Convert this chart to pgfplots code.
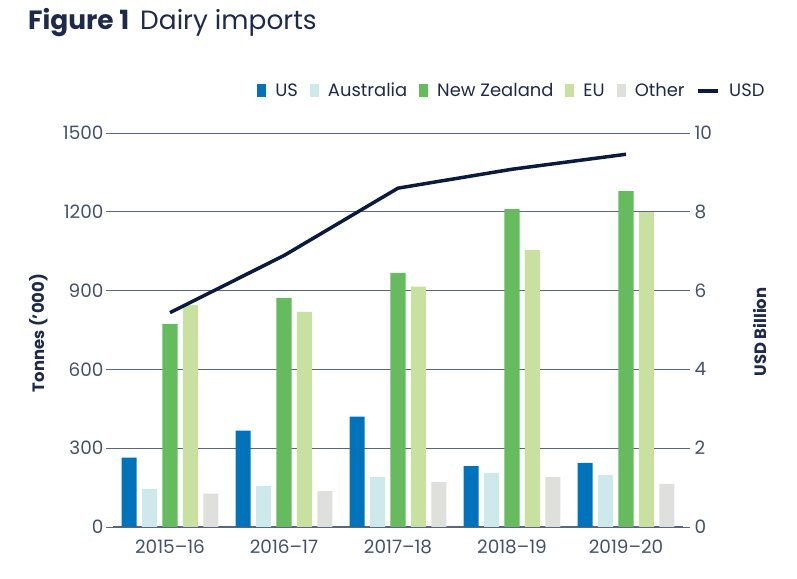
\documentclass[border=0pt]{standalone}
\usepackage{pgfplots}
\pgfplotsset{compat=1.18}
\usepackage{fontspec}
\setmainfont{Poppins}

\definecolor{cUS}{HTML}{0073BB}
\definecolor{cAus}{HTML}{CDE9EC}
\definecolor{cNZ}{HTML}{66BB5F}
\definecolor{cEU}{HTML}{C8E1A0}
\definecolor{cOther}{HTML}{DFDFDC}
\definecolor{cLine}{HTML}{0B1B3F}
\definecolor{cText}{HTML}{1E2A4A}
\definecolor{cTick}{HTML}{44516C}
\definecolor{cGrid}{HTML}{5A6680}

% Dairy imports by source, tonnes ('000)
\pgfplotstableread{
x  US   Aus  NZ    EU    Other
0  264  145  773   845   127
1  367  156  872   819   137
2  420  190  967   915   171
3  232  206  1210  1054  190
4  244  198  1279  1199  164
}\imports

% Total value, USD billion
\pgfplotstableread{
x  USD
0  5.44
1  6.89
2  8.60
3  9.08
4  9.46
}\usdtable

\pgfplotsset{
  barkey/.style={
    legend image code/.code={\fill[##1] (0bp,-6.5bp) rectangle (9bp,6.5bp);}
  },
  linekey/.style={
    legend image code/.code={\draw[##1] (0bp,0bp) -- (20bp,0bp);}
  }
}

\begin{document}
\begin{tikzpicture}[x=1bp,y=1bp]
\path[use as bounding box] (0,0) rectangle (797,579);

% Title
\node[anchor=base west, inner sep=0pt, text=cText, font=\fontsize{26.5}{31}\selectfont]
  at (28,549) {\textbf{Figure 1}\hspace{11bp}Dairy imports};

\begin{axis}[
  at={(113bp,52bp)}, anchor=south west,
  scale only axis, width=570bp, height=394bp,
  xmin=-0.5, xmax=4.5, ymin=0, ymax=1500,
  ybar, bar width=0.132,
  axis x line*=bottom, axis y line*=left,
  y axis line style={draw=none},
  x axis line style={draw=cGrid, line width=1.2bp},
  xtick={0,1,2,3,4},
  xticklabels={2015–16,2016–17,2017–18,2018–19,2019–20},
  major x tick style={draw=none},
  extra x ticks={-0.5,0.5,1.5,2.5,3.5,4.5},
  extra x tick labels={},
  extra x tick style={tick align=inside, major tick length=8bp,
    tick style={draw=cGrid, line width=0.8bp}},
  ytick={0,300,...,1500},
  ytick align=outside, major tick length=7bp,
  y tick style={draw=cGrid, line width=0.8bp},
  ymajorgrids, grid style={draw=cGrid, line width=0.8bp},
  tick label style={text=cTick, font=\fontsize{18.5}{21}\selectfont},
  /pgf/number format/assume math mode=true,
  /pgf/number format/1000 sep={},
  yticklabel style={xshift=1bp},
  xticklabel style={yshift=-2bp},
  legend style={
    at={(1.152,1.107)}, anchor=east, draw=none, fill=none,
    font=\fontsize{18}{21}\selectfont, text=cText,
    legend columns=6,
    /tikz/every odd column/.append style={column sep=7bp},
    /tikz/every even column/.append style={column sep=10bp},
    legend cell align=left,
  },
  clip=false,
]
\addplot[fill=cUS, draw=none, bar shift=-0.358, barkey] table[x=x,y=US] {\imports};
\addlegendentry{US}
\addplot[fill=cAus, draw=none, bar shift=-0.179, barkey] table[x=x,y=Aus] {\imports};
\addlegendentry{Australia}
\addplot[fill=cNZ, draw=none, bar shift=0, barkey] table[x=x,y=NZ] {\imports};
\addlegendentry{New Zealand}
\addplot[fill=cEU, draw=none, bar shift=0.179, barkey] table[x=x,y=EU] {\imports};
\addlegendentry{EU}
\addplot[fill=cOther, draw=none, bar shift=0.358, barkey] table[x=x,y=Other] {\imports};
\addlegendentry{Other}
\addlegendimage{draw=cLine, line width=3.5bp, linekey}
\addlegendentry{USD}
\end{axis}

\begin{axis}[
  at={(113bp,52bp)}, anchor=south west,
  scale only axis, width=570bp, height=394bp,
  xmin=-0.5, xmax=4.5, ymin=0, ymax=10,
  axis x line=none, axis y line*=right,
  y axis line style={draw=none},
  ytick={0,2,...,10},
  ytick align=outside, major tick length=7bp,
  y tick style={draw=cGrid, line width=0.8bp},
  tick label style={text=cTick, font=\fontsize{18.5}{21}\selectfont},
  /pgf/number format/assume math mode=true,
  yticklabel style={xshift=1bp},
  clip=false,
]
\addplot[draw=cLine, line width=3.5bp, line join=miter, mark=none] table[x=x,y=USD] {\usdtable};
\end{axis}

% Axis titles
\node[rotate=90, text=cText, font=\bfseries\fontsize{16.5}{19}\selectfont]
  at (39,246) {Tonnes ('000)};
\node[rotate=90, text=cText, font=\bfseries\fontsize{16.5}{19}\selectfont]
  at (760,247) {USD Billion};
\end{tikzpicture}
\end{document}
